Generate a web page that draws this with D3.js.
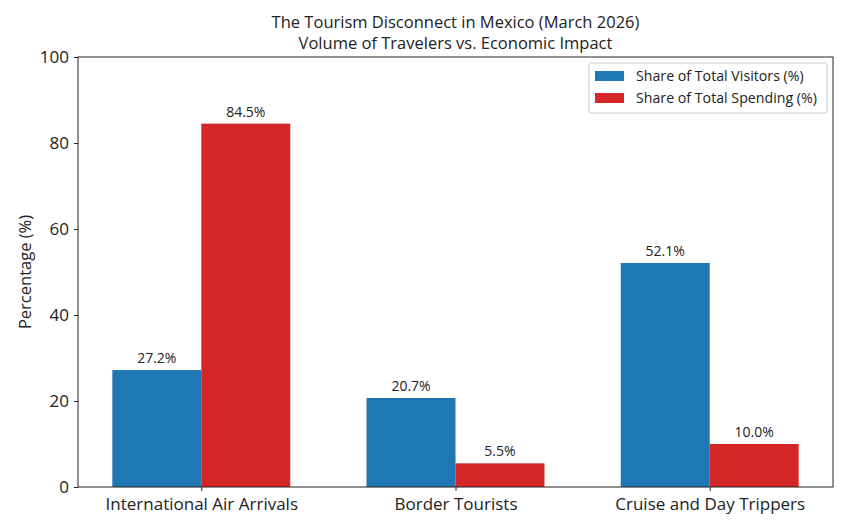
<!DOCTYPE html>
<html>
<head>
<meta charset="utf-8">
<script src="https://cdn.jsdelivr.net/npm/d3@7"></script>
<style>
  body { margin: 0; background: #fff; }
  svg text { font-family: "Open Sans", Roboto, sans-serif; fill: #222; }
</style>
</head>
<body>
<div id="run"></div>
<script>
var categories = ["International Air Arrivals", "Border Tourists", "Cruise and Day Trippers"];
var seriesNames = ["Share of Total Visitors (%)", "Share of Total Spending (%)"];
var visitors = [27.2, 20.7, 52.1];
var spending = [84.5, 5.5, 10.0];
var yTicks = [0, 20, 40, 60, 80, 100];
var colors = ["#1f77b4", "#d62728"];

var width = 850, height = 531;
var margin = {top: 57, right: 17, bottom: 44, left: 78};
var barW = 0.35;

var svg = d3.select("#run").append("svg")
    .attr("width", width)
    .attr("height", height);

var x = d3.scaleLinear()
    .domain([-0.485, categories.length - 1 + 0.485])
    .range([margin.left, width - margin.right]);

var y = d3.scaleLinear()
    .domain([0, 100])
    .range([height - margin.bottom, margin.top]);

var series = [visitors, spending];

series.forEach(function(vals, s) {
    var off = (s === 0 ? -1 : 0) * barW;
    svg.selectAll(".bar" + s)
        .data(vals)
        .enter().append("rect")
        .attr("x", function(d, i) { return x(i + off); })
        .attr("y", function(d) { return y(d); })
        .attr("width", function(d, i) { return x(i + off + barW) - x(i + off); })
        .attr("height", function(d) { return y(0) - y(d); })
        .attr("fill", colors[s]);

    svg.selectAll(".lbl" + s)
        .data(vals)
        .enter().append("text")
        .attr("x", function(d, i) { return x(i + off + barW / 2); })
        .attr("y", function(d) { return y(d) - 7; })
        .attr("text-anchor", "middle")
        .style("font-size", "14px")
        .text(function(d) { return d.toFixed(1) + "%"; });
});

// axes
var yAxis = svg.append("g")
    .attr("transform", "translate(" + margin.left + ",0)")
    .call(d3.axisLeft(y).tickValues(yTicks).tickSize(4).tickPadding(5));
yAxis.selectAll("text").style("font-size", "17px");

var xAxis = svg.append("g")
    .attr("transform", "translate(0," + (height - margin.bottom) + ")")
    .call(d3.axisBottom(x).tickValues(d3.range(categories.length))
        .tickFormat(function(d) { return categories[d]; }).tickSize(4).tickPadding(7));
xAxis.selectAll("text").style("font-size", "17px");

svg.selectAll(".domain").remove();
svg.selectAll(".tick line").attr("stroke", "#222");

// frame
svg.append("rect")
    .attr("x", margin.left)
    .attr("y", margin.top)
    .attr("width", width - margin.right - margin.left)
    .attr("height", height - margin.bottom - margin.top)
    .attr("fill", "none")
    .attr("stroke", "#222")
    .attr("stroke-width", 1);

// titles
var cx = (margin.left + width - margin.right) / 2;
svg.append("text")
    .attr("x", cx)
    .attr("y", 28)
    .attr("text-anchor", "middle")
    .style("font-size", "16.5px")
    .text("The Tourism Disconnect in Mexico (March 2026)");
svg.append("text")
    .attr("x", cx)
    .attr("y", 49)
    .attr("text-anchor", "middle")
    .style("font-size", "16.5px")
    .text("Volume of Travelers vs. Economic Impact");

svg.append("text")
    .attr("transform", "translate(31," + ((margin.top + height - margin.bottom) / 2) + ") rotate(-90)")
    .attr("text-anchor", "middle")
    .style("font-size", "16.5px")
    .text("Percentage (%)");

// legend
var lg = svg.append("g").attr("transform", "translate(589,63)");
lg.append("rect")
    .attr("width", 238).attr("height", 50).attr("rx", 2)
    .attr("fill", "#fff").attr("stroke", "#ccc");
seriesNames.forEach(function(n, i) {
    lg.append("rect")
        .attr("x", 6).attr("y", 8 + i * 22)
        .attr("width", 29).attr("height", 10)
        .attr("fill", colors[i]);
    lg.append("text")
        .attr("x", 47).attr("y", 18 + i * 22)
        .style("font-size", "14.2px")
        .text(n);
});
</script>
</body>
</html>
